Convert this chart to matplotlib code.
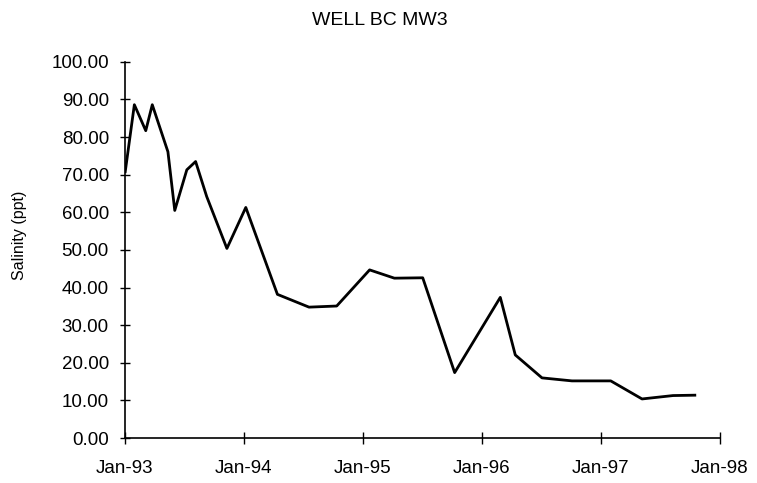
import matplotlib
matplotlib.use('Agg')
import matplotlib.pyplot as plt
import matplotlib.dates as mdates
import pandas as pd

plt.rcParams['font.family'] = ['Liberation Sans', 'DejaVu Sans']

# sampling dates and salinity readings (ppt)
dates = ['1993-01-02', '1993-01-30', '1993-03-06', '1993-03-26', '1993-05-13',
         '1993-06-03', '1993-07-10', '1993-08-06', '1993-09-09', '1993-11-10',
         '1994-01-07', '1994-04-14', '1994-07-20', '1994-10-13', '1995-01-22',
         '1995-04-08', '1995-07-04', '1995-10-10', '1996-02-27', '1996-04-13',
         '1996-07-04', '1996-10-04', '1997-01-31', '1997-05-07', '1997-08-10',
         '1997-10-16']
salinity = [70.8, 88.6, 81.7, 88.6, 76.1,
            60.5, 71.3, 73.5, 64.2, 50.4,
            61.3, 38.2, 34.8, 35.1, 44.7,
            42.5, 42.6, 17.4, 37.4, 22.1,
            16.0, 15.2, 15.2, 10.4, 11.3,
            11.4]
tick_years = [1993, 1994, 1995, 1996, 1997, 1998]

x = pd.to_datetime(dates)
ticks = [pd.Timestamp(year=y, month=1, day=1) for y in tick_years]

fig = plt.figure(figsize=(7.57, 4.83), dpi=100)
ax = fig.add_axes([0.165, 0.093, 0.786, 0.779])

ax.plot(x, salinity, color='black', linewidth=2.0)

ax.set_xlim(ticks[0], ticks[-1])
ax.set_ylim(0, 100)
ax.set_xticks(ticks)
ax.xaxis.set_major_formatter(mdates.DateFormatter('%b-%y'))
ax.set_yticks(range(0, 101, 10))
ax.yaxis.set_major_formatter(matplotlib.ticker.FormatStrFormatter('%.2f'))

for s in ['top', 'right']:
    ax.spines[s].set_visible(False)
for s in ['left', 'bottom']:
    ax.spines[s].set_linewidth(1.2)

ax.tick_params(axis='y', direction='inout', length=7, width=1, pad=8, labelsize=13.5)
ax.tick_params(axis='x', direction='inout', length=8, width=1, pad=12, labelsize=13.5)

ax.set_ylabel('Salinity (ppt)', fontsize=11.5)
ax.yaxis.set_label_coords(-0.165, 0.54)

fig.text(0.502, 0.958, 'WELL BC MW3', ha='center', va='center', fontsize=14)

plt.savefig('out.png', dpi=100)
